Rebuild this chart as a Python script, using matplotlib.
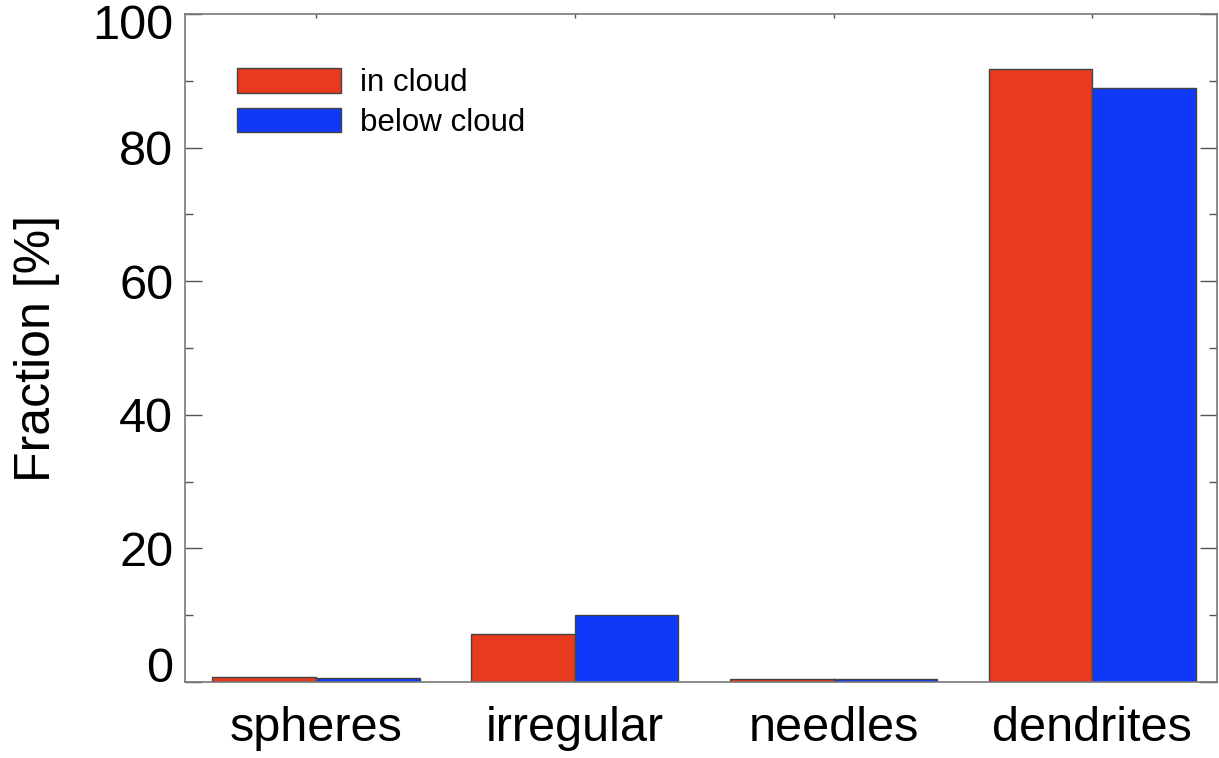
import matplotlib
matplotlib.use("Agg")
import matplotlib.pyplot as plt
from matplotlib.transforms import ScaledTranslation
import numpy as np
from matplotlib.ticker import MultipleLocator

categories = ["spheres", "irregular", "needles", "dendrites"]
in_cloud = [0.7, 7.2, 0.4, 91.8]
below_cloud = [0.6, 10.0, 0.4, 88.9]
yticks = [0, 20, 40, 60, 80, 100]

plt.rcParams['font.family'] = ['Liberation Sans', 'DejaVu Sans']

fig = plt.figure(figsize=(12.19, 7.58), dpi=100)
ax = fig.add_axes([0.1518, 0.1003, 0.8462, 0.8812])

x = np.arange(len(categories))
w = 0.4
ax.bar(x - w/2, in_cloud, w, color="#E83A1F", edgecolor="#444444", linewidth=1.0, label="in cloud")
ax.bar(x + w/2, below_cloud, w, color="#1038F8", edgecolor="#444444", linewidth=1.0, label="below cloud")

ax.set_xlim(-0.506, 3.48)
ax.set_ylim(0, 100)
ax.set_xticks(x)
ax.set_xticklabels(categories, fontsize=35)
ax.set_yticks(yticks)
ax.yaxis.set_minor_locator(MultipleLocator(10))
ax.tick_params(axis='y', which='major', direction='in', length=12, width=1, colors='#555555',
               labelcolor='black', labelsize=35, right=True, pad=8.5)
ax.tick_params(axis='y', which='minor', direction='in', length=6, width=1, colors='#555555', right=True)
ax.tick_params(axis='x', which='major', direction='in', length=3, width=1, colors='#555555',
               labelcolor='black', top=True, pad=17)
for s in ax.spines.values():
    s.set_color('#777777')
    s.set_linewidth(1.2)

labels = ax.get_yticklabels()
labels[0].set_verticalalignment('baseline')
labels[-1].set_verticalalignment('top')
labels[-1].set_transform(labels[-1].get_transform() + ScaledTranslation(0, 7/72, fig.dpi_scale_trans))

ax.set_ylabel("Fraction [%]", fontsize=36)
ax.yaxis.set_label_coords(-0.121, 0.5)

leg = ax.legend(loc='upper left', bbox_to_anchor=(0.0235, 0.9615), frameon=False, fontsize=22.5,
                handlelength=3.3, handleheight=0.85, handletextpad=0.62, labelspacing=0.3)

fig.savefig("out.png", dpi=100)
